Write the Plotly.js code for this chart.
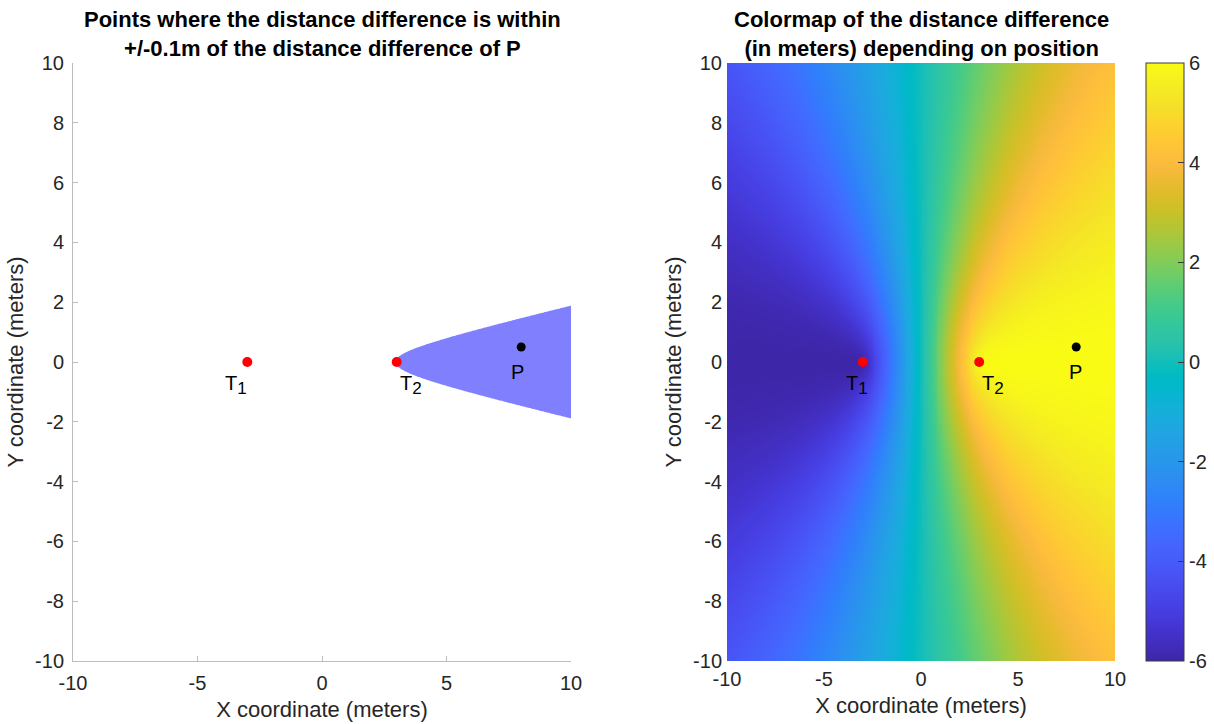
<!DOCTYPE html>
<html>
<head>
<meta charset="utf-8">
<script src="https://cdn.plot.ly/plotly-3.0.1.min.js"></script>
<style>
  html, body { margin: 0; padding: 0; background: #ffffff; }
  #chart { width: 1214px; height: 724px; }
</style>
</head>
<body>
<div id="chart"></div>
<script>
// Transmitters and the reference point P (metres)
const transmitterNames = ['T<sub><span style="font-size:17px">1</span></sub>', 'T<sub><span style="font-size:17px">2</span></sub>'];
const transmitterX = [-3, 3];
const transmitterY = [0, 0];
const pointNames = ['P'];
const pointX = [8];
const pointY = [0.5];

// Tolerance band around the distance difference of P (metres)
const tolerance = 0.1;

// Area covered by the maps and its sampling step (metres)
const areaMin = -10;
const areaMax = 10;
const gridStep = 0.05;

// Tick values and labels
const xTickVals = [-10, -5, 0, 5, 10];
const xTickText = ['-10', '-5', '0', '5', '10'];
const yTickVals = [-10, -8, -6, -4, -2, 0, 2, 4, 6, 8, 10];
const yTickText = ['-10', '-8', '-6', '-4', '-2', '0', '2', '4', '6', '8', '10'];
const cTickVals = [-6, -4, -2, 0, 2, 4, 6];
const cTickText = ['-6', '-4', '-2', '0', '2', '4', '6'];

// Distance to T1 minus distance to T2
function distanceDifference(x, y) {
  return Math.hypot(x - transmitterX[0], y - transmitterY[0]) -
         Math.hypot(x - transmitterX[1], y - transmitterY[1]);
}

// Sampling grid
const nSteps = Math.round((areaMax - areaMin) / gridStep);
const gridX = [];
for (let i = 0; i <= nSteps; i++) gridX.push(+(areaMin + i * gridStep).toFixed(4));
const gridY = gridX.slice();
const field = gridY.map(y => gridX.map(x => distanceDifference(x, y)));
const diffP = distanceDifference(pointX[0], pointY[0]);

// MATLAB parula colormap (64 entries)
const parula = [
  [0.2422,0.1504,0.6603],[0.2504,0.1650,0.7076],[0.2578,0.1818,0.7511],[0.2647,0.1978,0.7952],
  [0.2706,0.2147,0.8364],[0.2751,0.2342,0.8710],[0.2783,0.2559,0.8991],[0.2803,0.2782,0.9221],
  [0.2813,0.3006,0.9414],[0.2810,0.3228,0.9579],[0.2795,0.3447,0.9717],[0.2760,0.3667,0.9829],
  [0.2699,0.3892,0.9906],[0.2602,0.4123,0.9952],[0.2440,0.4358,0.9988],[0.2206,0.4603,0.9973],
  [0.1963,0.4847,0.9892],[0.1834,0.5074,0.9798],[0.1786,0.5289,0.9682],[0.1764,0.5499,0.9520],
  [0.1687,0.5703,0.9359],[0.1540,0.5902,0.9218],[0.1460,0.6091,0.9079],[0.1380,0.6276,0.8973],
  [0.1248,0.6459,0.8883],[0.1113,0.6635,0.8763],[0.0952,0.6798,0.8598],[0.0689,0.6948,0.8394],
  [0.0297,0.7082,0.8163],[0.0036,0.7203,0.7917],[0.0067,0.7312,0.7660],[0.0433,0.7411,0.7394],
  [0.0964,0.7500,0.7120],[0.1408,0.7584,0.6842],[0.1717,0.7670,0.6554],[0.1938,0.7758,0.6251],
  [0.2161,0.7843,0.5923],[0.2470,0.7918,0.5567],[0.2906,0.7973,0.5188],[0.3406,0.8008,0.4789],
  [0.3909,0.8029,0.4354],[0.4456,0.8024,0.3909],[0.5044,0.7993,0.3480],[0.5616,0.7942,0.3045],
  [0.6174,0.7876,0.2612],[0.6720,0.7793,0.2227],[0.7242,0.7698,0.1910],[0.7738,0.7598,0.1646],
  [0.8203,0.7498,0.1535],[0.8634,0.7406,0.1596],[0.9035,0.7330,0.1774],[0.9393,0.7288,0.2100],
  [0.9728,0.7298,0.2394],[0.9956,0.7434,0.2371],[0.9970,0.7659,0.2199],[0.9952,0.7893,0.2028],
  [0.9892,0.8136,0.1885],[0.9786,0.8386,0.1766],[0.9676,0.8639,0.1643],[0.9610,0.8890,0.1537],
  [0.9597,0.9135,0.1423],[0.9628,0.9373,0.1265],[0.9691,0.9606,0.1064],[0.9769,0.9839,0.0805]
];
const parulaScale = parula.map((c, i) => [
  i / (parula.length - 1),
  'rgb(' + c.map(v => Math.round(v * 255)).join(',') + ')'
]);

const W = 1214, H = 724;
const FONT = 'Liberation Sans, Arial, Helvetica, sans-serif';
const TEXT = '#262626';
const AXIS_GRAY = '#bcbcbc';
const BAND_FILL = 'rgb(128,128,255)';

const plotTop = 63, plotBottom = 661;
const yDomain = [1 - plotBottom / H, 1 - plotTop / H];

function axisCommon(extra) {
  return Object.assign({
    range: [areaMin, areaMax],
    zeroline: false,
    showgrid: false,
    automargin: false,
    fixedrange: true,
    tickfont: { family: FONT, size: 20, color: TEXT },
    ticklabelstandoff: 4
  }, extra);
}

const traces = [
  // Left panel: band where the distance difference is within tolerance of P.
  // Plotly shades the side excluded by a constraint, so the outer interval
  // ")(" leaves the band [diffP - tol, diffP + tol] shaded.
  {
    type: 'contour', x: gridX, y: gridY, z: field,
    xaxis: 'x', yaxis: 'y',
    contours: { type: 'constraint', operation: ')(', value: [diffP - tolerance, diffP + tolerance] },
    fillcolor: BAND_FILL,
    line: { width: 0, color: BAND_FILL, smoothing: 1 },
    showscale: false, showlegend: false, hoverinfo: 'skip'
  },
  {
    type: 'scatter', mode: 'markers', x: transmitterX, y: transmitterY,
    xaxis: 'x', yaxis: 'y',
    marker: { size: 10, color: '#ff0000' }, cliponaxis: false, showlegend: false
  },
  {
    type: 'scatter', mode: 'markers', x: pointX, y: pointY,
    xaxis: 'x', yaxis: 'y',
    marker: { size: 9, color: '#000000' }, cliponaxis: false, showlegend: false
  },
  // Right panel: distance difference over the whole area
  {
    type: 'heatmap', x: gridX, y: gridY, z: field,
    xaxis: 'x2', yaxis: 'y2',
    zmin: -6, zmax: 6, zsmooth: 'best',
    colorscale: parulaScale,
    hoverinfo: 'skip',
    colorbar: {
      x: 1146 / W, xanchor: 'left', y: 1 - (plotTop + 299) / H, yanchor: 'middle',
      thickness: 38, thicknessmode: 'pixels',
      len: (plotBottom - plotTop) / H, lenmode: 'fraction',
      xpad: 0, ypad: 0,
      outlinewidth: 1, outlinecolor: '#3a3a3a',
      ticks: 'inside', ticklen: 6, tickcolor: '#3a3a3a',
      tickvals: cTickVals, ticktext: cTickText,
      tickfont: { family: FONT, size: 20, color: TEXT }
    }
  },
  {
    type: 'scatter', mode: 'markers', x: transmitterX, y: transmitterY,
    xaxis: 'x2', yaxis: 'y2',
    marker: { size: 10, color: '#ff0000' }, cliponaxis: false, showlegend: false
  },
  {
    type: 'scatter', mode: 'markers', x: pointX, y: pointY,
    xaxis: 'x2', yaxis: 'y2',
    marker: { size: 9, color: '#000000' }, cliponaxis: false, showlegend: false
  }
];

// Marker labels, placed below and to the side of each marker
const labelShiftX = [-0.98, 0.05];
const labelShiftY = -0.78;
const pLabelShift = [-0.5, -0.83];
const annotations = [];
['', '2'].forEach(suffix => {
  transmitterNames.forEach((name, i) => {
    annotations.push({
      xref: 'x' + suffix, yref: 'y' + suffix,
      x: transmitterX[i] + labelShiftX[i], y: transmitterY[i] + labelShiftY,
      text: name, showarrow: false, xanchor: 'left', yanchor: 'middle',
      font: { family: FONT, size: 20, color: '#000000' }
    });
  });
  pointNames.forEach((name, i) => {
    annotations.push({
      xref: 'x' + suffix, yref: 'y' + suffix,
      x: pointX[i] + pLabelShift[0], y: pointY[i] + pLabelShift[1],
      text: name, showarrow: false, xanchor: 'left', yanchor: 'middle',
      font: { family: FONT, size: 20, color: '#000000' }
    });
  });
});

// Panel titles
annotations.push({
  xref: 'paper', yref: 'paper', x: 322 / W, y: 1 - 5 / H,
  xanchor: 'center', yanchor: 'top', showarrow: false,
  text: '<b>Points where the distance difference is within<br>+/-0.1m of the distance difference of P</b>',
  font: { family: FONT, size: 22, color: '#000000' }
});
annotations.push({
  xref: 'paper', yref: 'paper', x: 921 / W, y: 1 - 5 / H,
  xanchor: 'center', yanchor: 'top', showarrow: false,
  text: '<b>Colormap of the distance difference<br>(in meters) depending on position</b>',
  font: { family: FONT, size: 22, color: '#000000' }
});

const xTitle = { text: 'X coordinate (meters)', font: { family: FONT, size: 22, color: TEXT }, standoff: 8 };
const yTitle = { text: 'Y coordinate (meters)', font: { family: FONT, size: 22, color: TEXT }, standoff: 5 };

const layout = {
  width: W, height: H,
  margin: { l: 0, r: 0, t: 0, b: 0 },
  paper_bgcolor: '#ffffff', plot_bgcolor: '#ffffff',
  font: { family: FONT, color: TEXT },
  showlegend: false,
  xaxis: axisCommon({
    domain: [73 / W, 571 / W], anchor: 'y',
    tickvals: xTickVals, ticktext: xTickText,
    showline: true, linecolor: AXIS_GRAY, linewidth: 1,
    ticks: 'inside', ticklen: 5, tickcolor: AXIS_GRAY,
    title: xTitle
  }),
  yaxis: axisCommon({
    domain: yDomain, anchor: 'x',
    tickvals: yTickVals, ticktext: yTickText,
    showline: true, linecolor: AXIS_GRAY, linewidth: 1,
    ticks: 'inside', ticklen: 5, tickcolor: AXIS_GRAY,
    title: yTitle
  }),
  xaxis2: axisCommon({
    domain: [727 / W, 1115 / W], anchor: 'y2',
    tickvals: xTickVals, ticktext: xTickText,
    showline: false, ticks: '',
    title: xTitle
  }),
  yaxis2: axisCommon({
    domain: yDomain, anchor: 'x2',
    tickvals: yTickVals, ticktext: yTickText,
    showline: false, ticks: '',
    title: yTitle
  }),
  annotations: annotations
};

Plotly.newPlot('chart', traces, layout, { displayModeBar: false, staticPlot: true });
</script>
</body>
</html>
